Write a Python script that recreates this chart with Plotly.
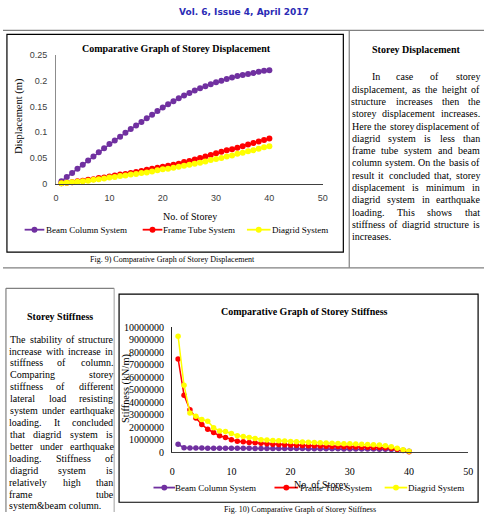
import plotly.graph_objects as go

W, H = 489, 518

# ---------------- data ----------------
storeys = list(range(1, 41))

disp_beam = [0.005, 0.013, 0.021, 0.029, 0.037, 0.045, 0.053, 0.061, 0.069, 0.077,
             0.084, 0.091, 0.099, 0.106, 0.113, 0.120, 0.127, 0.134, 0.141, 0.148,
             0.154, 0.160, 0.166, 0.171, 0.176, 0.181, 0.185, 0.189, 0.193, 0.197,
             0.200, 0.203, 0.206, 0.209, 0.211, 0.213, 0.215, 0.217, 0.219, 0.220]
disp_frame = [0.001, 0.002, 0.003, 0.005, 0.006, 0.008, 0.009, 0.011, 0.012, 0.014,
              0.016, 0.018, 0.019, 0.021, 0.023, 0.025, 0.027, 0.029, 0.031, 0.033,
              0.035, 0.037, 0.039, 0.042, 0.044, 0.047, 0.050, 0.053, 0.056, 0.059,
              0.062, 0.065, 0.067, 0.070, 0.073, 0.076, 0.079, 0.082, 0.085, 0.088]
disp_diagrid = [0.001, 0.002, 0.003, 0.004, 0.005, 0.006, 0.008, 0.009, 0.010, 0.012,
                0.013, 0.015, 0.016, 0.018, 0.019, 0.021, 0.022, 0.024, 0.026, 0.028,
                0.029, 0.031, 0.033, 0.035, 0.037, 0.039, 0.041, 0.043, 0.046, 0.048,
                0.050, 0.053, 0.055, 0.058, 0.060, 0.063, 0.065, 0.068, 0.071, 0.073]

stiff_beam = [650000, 380000, 360000, 350000, 345000, 340000, 338000, 335000, 333000, 330000,
              328000, 326000, 324000, 322000, 320000, 318000, 316000, 314000, 312000, 310000,
              307000, 304000, 301000, 298000, 295000, 292000, 289000, 286000, 283000, 280000,
              276000, 272000, 268000, 264000, 259000, 252000, 240000, 220000, 180000, 100000]
stiff_frame = [7480000, 4580000, 3410000, 2760000, 2240000, 1850000, 1590000, 1330000, 1200000, 1020000,
               890000, 860000, 800000, 780000, 730000, 690000, 660000, 640000, 620000, 600000,
               580000, 560000, 540000, 530000, 510000, 500000, 480000, 470000, 450000, 440000,
               430000, 420000, 410000, 400000, 390000, 370000, 330000, 260000, 160000, 60000]
stiff_diagrid = [9300000, 5370000, 3150000, 2890000, 2630000, 2500000, 1980000, 1720000, 1670000, 1510000,
                 1330000, 1280000, 1200000, 1120000, 1020000, 990000, 950000, 930000, 910000, 880000,
                 860000, 840000, 820000, 800000, 780000, 760000, 740000, 720000, 700000, 690000,
                 670000, 660000, 640000, 620000, 590000, 540000, 460000, 340000, 220000, 100000]

series_names = ["Beam Column System", "Frame Tube System", "Diagrid System"]
series_colors = ["#7030A0", "#FF0000", "#FFFF00"]

x_ticks = [0, 10, 20, 30, 40, 50]
disp_ticks = [0, 0.05, 0.1, 0.15, 0.2, 0.25]
disp_ticktext = ["0", "0.05", "0.1", "0.15", "0.2", "0.25"]
stiff_ticks = [0, 1000000, 2000000, 3000000, 4000000, 5000000, 6000000, 7000000, 8000000, 9000000, 10000000]

right_title = "Storey Displacement"
right_lines = [
    "In case of storey",
    "displacement, as the height of",
    "structure increases then the",
    "storey displacement increases.",
    "Here the storey displacement of",
    "diagrid system is less than",
    "frame tube system and beam",
    "column system. On the basis of",
    "result it concluded that, storey",
    "displacement is minimum in",
    "diagrid system in earthquake",
    "loading. This shows that",
    "stiffness of diagrid structure is",
    "increases.",
]
left_title = "Storey Stiffness"
left_lines = [
    "The stability of structure",
    "increase with increase in",
    "stiffness of column.",
    "Comparing storey",
    "stiffness of different",
    "lateral load resisting",
    "system under earthquake",
    "loading. It concluded",
    "that diagrid system is",
    "better under earthquake",
    "loading. Stiffness of",
    "diagrid system is",
    "relatively high than",
    "frame tube",
    "system&beam column.",
]

# ---------------- helpers ----------------
def px(x):
    return x / W

def py(y):
    return 1 - y / H

SERIF = "Liberation Serif"
annots = []
shapes = []

def txt(text, x, y, size, anchor="center", bold=False, family=SERIF, color="#000", angle=0):
    t = text.replace("&", "&amp;")
    if bold:
        t = "<b>" + t + "</b>"
    annots.append(dict(text=t, x=px(x), y=py(y), xref="paper", yref="paper",
                       xanchor=anchor, yanchor="middle", showarrow=False,
                       textangle=angle, borderpad=0,
                       font=dict(family=family, size=size, color=color)))

def hline(x0, x1, y, color="#808080", width=1.2):
    shapes.append(dict(type="line", xref="paper", yref="paper", x0=px(x0), x1=px(x1),
                       y0=py(y), y1=py(y), line=dict(color=color, width=width)))

def vline(x, y0, y1, color="#808080", width=1.2):
    shapes.append(dict(type="line", xref="paper", yref="paper", x0=px(x), x1=px(x),
                       y0=py(y0), y1=py(y1), line=dict(color=color, width=width)))

def rect(x0, y0, x1, y1, color="#000", width=1.2):
    shapes.append(dict(type="rect", xref="paper", yref="paper", x0=px(x0), x1=px(x1),
                       y0=py(y0), y1=py(y1), line=dict(color=color, width=width),
                       fillcolor="rgba(0,0,0,0)"))

def dot(cx, cy, r, color):
    shapes.append(dict(type="circle", xref="paper", yref="paper",
                       x0=px(cx - r), x1=px(cx + r), y0=py(cy + r), y1=py(cy - r),
                       line=dict(width=0), fillcolor=color))

# Times / Liberation Serif advance widths (per 1000 em)
TW = {' ': 250, '.': 250, ',': 250, '&': 778, '(': 333, ')': 333,
      'a': 444, 'b': 500, 'c': 444, 'd': 500, 'e': 444, 'f': 333, 'g': 500, 'h': 500,
      'i': 278, 'j': 278, 'k': 500, 'l': 278, 'm': 778, 'n': 500, 'o': 500, 'p': 500,
      'q': 500, 'r': 333, 's': 389, 't': 278, 'u': 500, 'v': 500, 'w': 722, 'x': 500,
      'y': 500, 'z': 444,
      'A': 722, 'B': 667, 'C': 667, 'D': 722, 'E': 611, 'F': 556, 'G': 722, 'H': 722,
      'I': 333, 'L': 611, 'N': 722, 'O': 722, 'S': 556, 'T': 611}

def tw(s, size):
    return sum(TW.get(c, 500) for c in s) * size / 1000.0

def paragraph(lines, left, right, y0, dy, size, indent=0):
    for i, line in enumerate(lines):
        y = y0 + i * dy
        lx = left + (indent if i == 0 else 0)
        words = line.split(" ")
        if i == len(lines) - 1 or len(words) == 1:
            txt(line, lx + tw(line, size) / 2, y, size)
            continue
        ws = [tw(w, size) for w in words]
        gap = (right - lx - sum(ws)) / (len(words) - 1)
        x = lx
        for w, wd in zip(words, ws):
            txt(w, x + wd / 2, y, size)
            x += wd + gap

def legend_row(starts, ends, text_starts, y, size=9):
    for name, col, x0, x1, xt in zip(series_names, series_colors, starts, ends, text_starts):
        hline(x0, x1, y, color=col, width=1.8)
        dot((x0 + x1) / 2, y, 3, col)
        txt(name, xt + tw(name, size) / 2, y, size)

# ---------------- figure ----------------
fig = go.Figure()

disp_sets = [disp_beam, disp_frame, disp_diagrid]
stiff_sets = [stiff_beam, stiff_frame, stiff_diagrid]
for name, col, vals in zip(series_names, series_colors, disp_sets):
    fig.add_trace(go.Scatter(x=storeys, y=vals, name=name, mode="lines+markers",
                             line=dict(color=col, width=1.5), marker=dict(color=col, size=6),
                             xaxis="x", yaxis="y", cliponaxis=False, showlegend=False))
for name, col, vals in zip(series_names, series_colors, stiff_sets):
    fig.add_trace(go.Scatter(x=storeys, y=vals, name=name, mode="lines+markers",
                             line=dict(color=col, width=1.5), marker=dict(color=col, size=5.5),
                             xaxis="x2", yaxis="y2", cliponaxis=False, showlegend=False))

# page header & frames
txt("Vol. 6, Issue 4, April 2017", 245, 6, 9, bold=True, family="DejaVu Sans", color="#2b2bb5")
hline(0, 489, 25)
vline(352, 25, 268)
hline(0, 489, 268)
rect(4, 29, 346, 252)
txt("Fig. 9) Comparative Graph of Storey Displacement", 172, 259.5, 8)

vline(3, 289, 518)
hline(3, 113, 289)
vline(113, 289, 518, color="#a0a0a0", width=1)
rect(118, 295, 483, 508)
txt("Fig. 10) Comparative Graph of Storey Stiffness", 302, 515, 8)

# chart 1 texts
txt("Comparative Graph of Storey Displacement", 176, 43, 10, bold=True)
txt("Displacement (m)", 17, 113, 10.5, angle=-90)
txt("No. of Storey", 190.5, 215, 10)
legend_row([22, 142, 248], [42, 162, 272], [44, 163, 274], 229)

# chart 2 texts
txt("Comparative Graph of Storey Stiffness", 307, 313, 10, bold=True)
txt("Stiffness (kN/m)", 125, 391, 10.3, angle=-90)
legend_row([153, 276, 388], [175, 300, 411], [176, 302, 412], 493)
txt("No. of Storey", 323, 490, 10)

# side texts
txt(right_title, 420, 45, 10, bold=True)
paragraph(right_lines, 355, 485, 72.5, 12.6, 10, indent=20)
txt(left_title, 58, 318, 10, bold=True)
paragraph(left_lines, 7, 112, 341, 12.2, 10)

fig.update_layout(
    width=W, height=H, margin=dict(l=0, r=0, t=0, b=0, pad=0),
    paper_bgcolor="white", plot_bgcolor="rgba(0,0,0,0)",
    showlegend=False,
    xaxis=dict(domain=[px(54), px(325)], range=[0, 50], tickvals=x_ticks,
               showline=True, linecolor="#404040", linewidth=1.3, ticks="",
               showgrid=False, zeroline=False, anchor="y", ticklabelstandoff=5,
               tickfont=dict(family="Liberation Sans", size=9, color="#404040")),
    yaxis=dict(domain=[py(182), py(50)], range=[0, 0.25], tickvals=disp_ticks,
               ticktext=disp_ticktext, showline=True, linecolor="#8c8c8c", linewidth=1.2,
               ticks="", showgrid=False, zeroline=False, anchor="x", ticklabelstandoff=6,
               tickfont=dict(family="Liberation Sans", size=9, color="#404040")),
    xaxis2=dict(domain=[px(172), px(473)], range=[0, 50], tickvals=x_ticks,
                showline=True, linecolor="#404040", linewidth=1.3, ticks="",
                showgrid=False, zeroline=False, anchor="y2", ticklabelstandoff=9,
                tickfont=dict(family=SERIF, size=10, color="#000")),
    yaxis2=dict(domain=[py(457), py(329)], range=[0, 10000000], tickvals=stiff_ticks,
                tickformat="d", showline=True, linecolor="#222", linewidth=1.2,
                ticks="", showgrid=False, zeroline=False, anchor="x2", ticklabelstandoff=5,
                tickfont=dict(family=SERIF, size=10, color="#000")),
    annotations=annots, shapes=shapes,
)

fig.write_html("out.html", post_script="document.body.style.margin='0';")
